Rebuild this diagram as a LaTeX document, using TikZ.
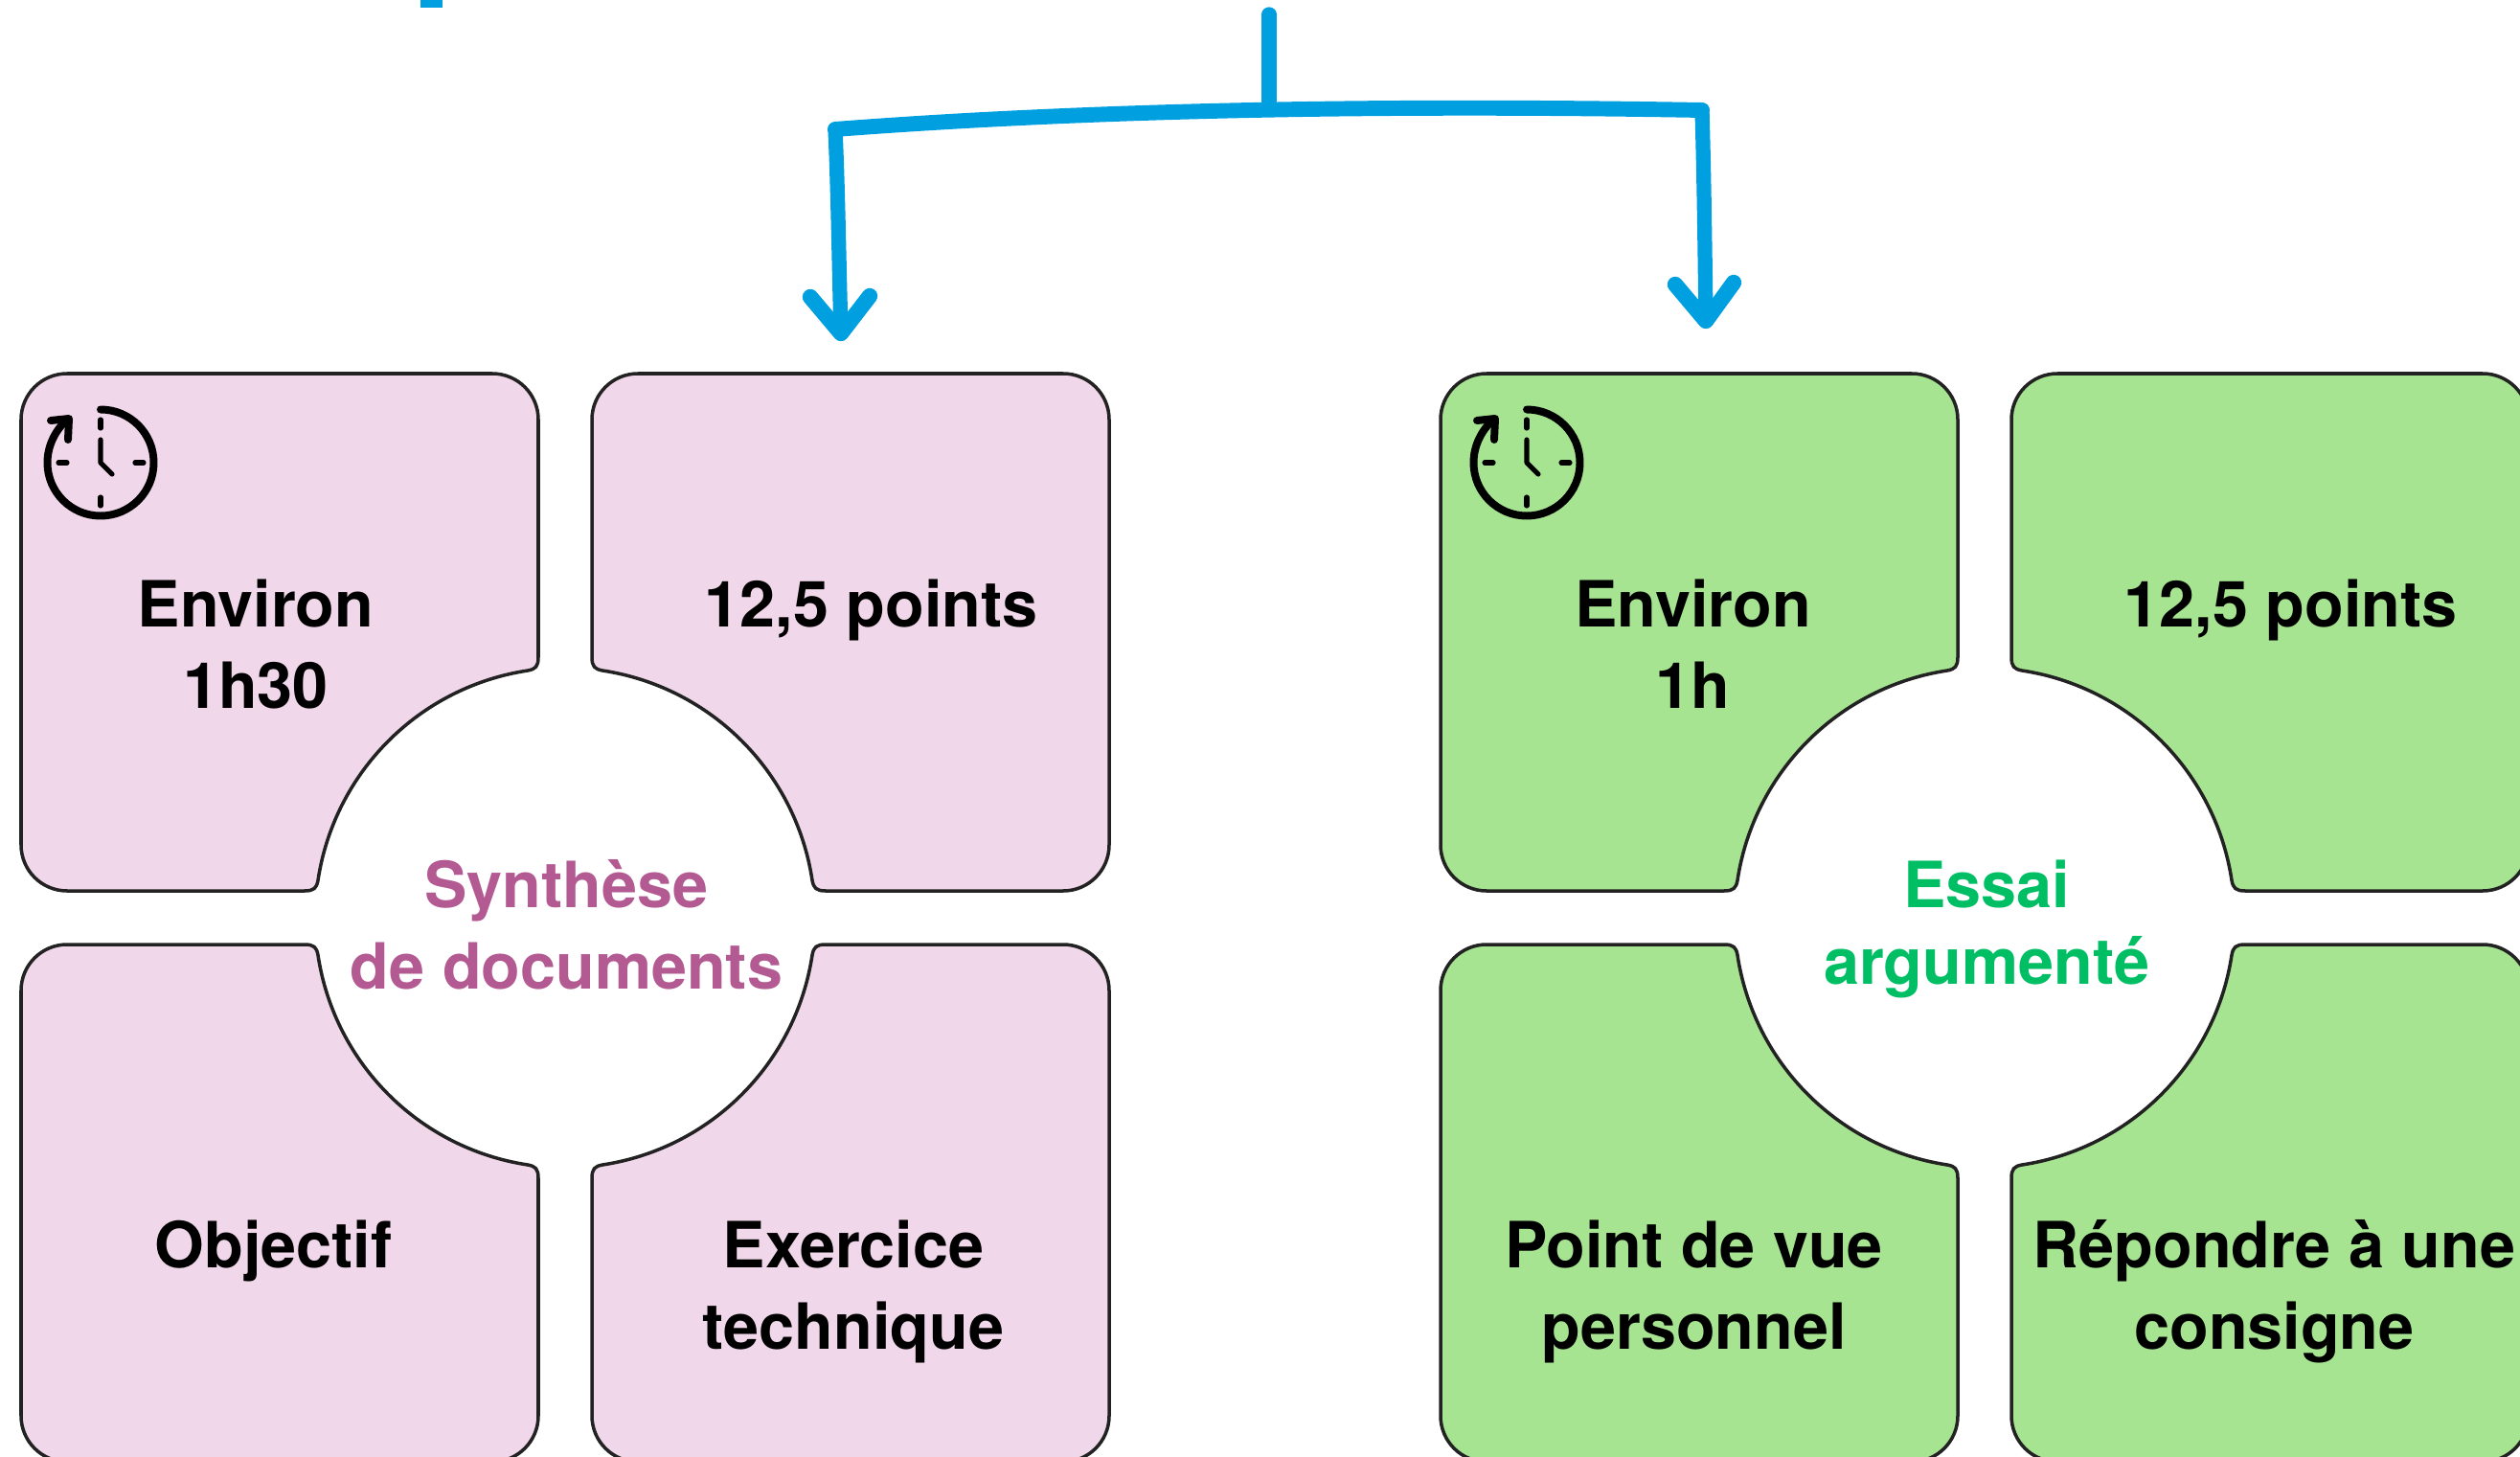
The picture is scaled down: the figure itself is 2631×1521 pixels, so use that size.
\documentclass[tikz,border=0pt]{standalone}
\usepackage{fontspec}
\setmainfont{TeX Gyre Heros}
\definecolor{pinkfill}{HTML}{F1D7EA}
\definecolor{greenfill}{HTML}{A6E491}
\definecolor{pinktext}{HTML}{B35A93}
\definecolor{greentext}{HTML}{00BE64}
\definecolor{bluearrow}{HTML}{00A0E0}
\definecolor{edge}{HTML}{222222}
\tikzset{
  petal/.style={draw=edge,line width=3pt,line join=round},
  boxtext/.style={font=\fontsize{56.8}{72.5}\selectfont\bfseries,align=center,anchor=base,text=black,inner sep=0pt},
  flow/.style={draw=bluearrow,line width=13pt,line cap=round,line join=round},
  clockline/.style={draw=black,line width=6.8pt,line cap=round,line join=round},
  clocktick/.style={draw=black,line width=4.4pt,line cap=round,line join=round}
}
% one quarter of the flower, relative to the circle's centre
\newcommand{\petalpath}[4]{%
  \begin{scope}[shift={(#1,#2)},xscale=#3,yscale=#4]
  \path[petal,fill=\petalfill]
    (28,272) -- (28,520) .. controls (28,546.5) and (49.5,568) .. (76,568)
    -- (520,568) .. controls (546.5,568) and (568,546.5) .. (568,520)
    -- (568,76) .. controls (568,49.5) and (546.5,28) .. (520,28)
    -- (272,28) .. controls (262,28) and (259.5,31) .. (258,39)
    .. controls (240.9,152.1) and (152.1,240.9) .. (39,258)
    .. controls (31,259.5) and (28,262) .. cycle;
  \end{scope}}
\newcommand{\flower}[3]{%
  \def\petalfill{#3}%
  \petalpath{#1}{#2}{1}{1}\petalpath{#1}{#2}{-1}{1}\petalpath{#1}{#2}{1}{-1}\petalpath{#1}{#2}{-1}{-1}}
\newcommand{\clockicon}[2]{%
  \begin{scope}[shift={(#1,#2)}]
  \draw[clockline] (0,-55.5) .. controls (30.7,-55.5) and (55.5,-30.7) .. (55.5,0)
     .. controls (55.5,30.7) and (30.7,55.5) .. (0,55.5)
     .. controls (-30.7,55.5) and (-55.5,30.7) .. (-55.5,0)
     .. controls (-55.5,-18) and (-47,-34) .. (-35,-45);
  \draw[clockline] (-52,-44) -- (-33,-46) -- (-34,-24);
  \draw[clocktick] (0,-45) -- (0,-36) (0,36) -- (0,45) (-44,0) -- (-35,0) (36,0) -- (45,0);
  \draw[clocktick] (0,-24) -- (0,0) -- (12,12);
  \end{scope}}
\begin{document}
\begin{tikzpicture}[x=0.03cm,y=-0.03cm]
\useasboundingbox (0,0) rectangle (2631,1521);
\clip (0,0) rectangle (2631,1521);

\flower{590}{958}{pinkfill}
\flower{2072}{958}{greenfill}

\clockicon{105}{483}
\clockicon{1594}{483}

% cropped glyph fragment at the top edge
\fill[bluearrow] (439,0) rectangle (462,8);

% connectors
\coordinate (stemtop) at (1325,15);
\coordinate (stemfoot) at (1325,112);
\coordinate (barL) at (872,135);
\coordinate (barR) at (1777,115);
\coordinate (tipL) at (878,348);
\coordinate (tipR) at (1781,335);
\coordinate (barbLa) at (846,310);
\coordinate (barbLb) at (908,309);
\coordinate (barbRa) at (1749,297);
\coordinate (barbRb) at (1810,295);
\draw[flow] (stemtop) -- (stemfoot);
\draw[flow,line width=13.6pt] (barL) .. controls (1170,112) and (1500,110) .. (barR);
\draw[flow] (barL) .. controls (875,200) and (876,280) .. (tipL);
\draw[flow] (barR) .. controls (1779,180) and (1780,260) .. (tipR);
\draw[flow,line width=14pt] (barbLa) -- (tipL) -- (barbLb);
\draw[flow,line width=14pt] (barbRa) -- (tipR) -- (barbRb);

% labels
\node[boxtext] (p1) at (267,739) {Environ\\1h30};
\node[boxtext] (p2) at (909.5,654) {12,5 points};
\node[boxtext] (p3) at (285.5,1323) {Objectif};
\node[boxtext] (p4) at (891,1408) {Exercice\\technique};
\node[boxtext] (g1) at (1767.5,739) {Environ\\1h};
\node[boxtext] (g2) at (2391.5,654) {12,5 points};
\node[boxtext] (g3) at (1768.5,1408) {Point de vue\\personnel};
\node[boxtext] (g4) at (2374.5,1408) {Répondre à une\\consigne};
\node[boxtext,text=pinktext] (pt) at (591.5,1032) {Synthèse\\de documents};
\node[boxtext,text=greentext,font=\fontsize{56.8}{68}\selectfont\bfseries] (gt) at (2074,1027) {Essai\\argumenté};
\end{tikzpicture}
\end{document}
